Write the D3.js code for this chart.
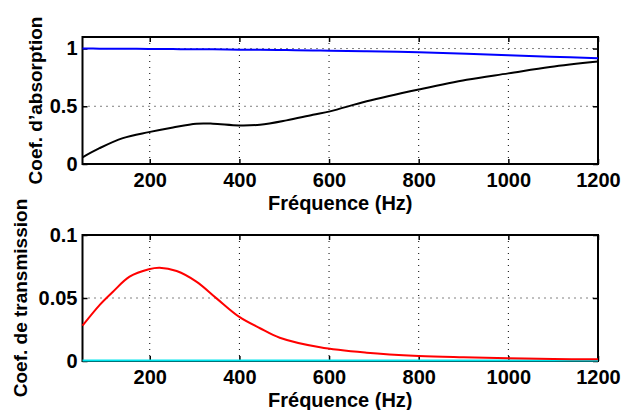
<!DOCTYPE html>
<html>
<head>
<meta charset="utf-8">
<script src="https://cdn.jsdelivr.net/npm/d3@7"></script>
<style>
  body { margin: 0; background: #fff; }
  svg { display: block; font-family: "Liberation Sans", Arial, Helvetica, sans-serif; font-weight: bold; }
  .tick text { font-size: 20px; font-weight: bold; fill: #000; }
  .grid line { stroke: #000; stroke-width: 1; stroke-dasharray: 1,5; }
</style>
</head>
<body>
<svg id="chart" width="625" height="410"></svg>
<script>
// absorption (top panel)
const freqAbs = [50, 88, 140, 198, 252, 304, 341, 399, 446, 505, 564, 602, 684, 800, 907, 1000, 1093, 1200];
const absorption = [0.058, 0.137, 0.224, 0.276, 0.317, 0.349, 0.349, 0.334, 0.34, 0.378, 0.427, 0.456, 0.543, 0.645, 0.73, 0.785, 0.84, 0.887];
const absorptionBlue = [1.0, 0.999, 0.998, 0.997, 0.995, 0.994, 0.993, 0.99, 0.989, 0.987, 0.984, 0.981, 0.976, 0.968, 0.955, 0.942, 0.93, 0.917];

// transmission (bottom panel)
const freqTr = [50, 88, 118, 155, 198, 222, 260, 304, 349, 399, 446, 490, 580, 684, 800, 900, 1000, 1100, 1200];
const transmission = [0.028, 0.0444, 0.055, 0.0669, 0.0728, 0.074, 0.0714, 0.063, 0.0497, 0.0352, 0.026, 0.0185, 0.0109, 0.0066, 0.004, 0.0029, 0.0021, 0.0016, 0.0013];
const transmissionCyan = [0.0004, 0.0004, 0.0004, 0.0004, 0.0004, 0.0004, 0.0004, 0.0004, 0.0004, 0.0004, 0.0004, 0.0004, 0.0004, 0.0004, 0.0004, 0.0004, 0.0004, 0.0004, 0.0004];

const xTicks = [200, 400, 600, 800, 1000, 1200];
const yTicksTop = [0, 0.5, 1];
const yTicksBottom = [0, 0.05, 0.1];

const svg = d3.select("#chart");

const xScale = d3.scaleLinear().domain([50, 1200]).range([82.5, 598]);

function panel(top, bottom, yDomain, yTicks, freq, series, ylabel, ylabelX) {
  const yScale = d3.scaleLinear().domain(yDomain).range([bottom, top]);
  const g = svg.append("g");

  // grid
  const grid = g.append("g").attr("class", "grid");
  grid.selectAll(".gx").data(xTicks.slice(0, -1)).enter().append("line")
    .attr("x1", d => xScale(d)).attr("x2", d => xScale(d))
    .attr("y1", top).attr("y2", bottom);
  grid.selectAll(".gy").data(yTicks.filter(t => t > yDomain[0] && t < yDomain[1])).enter().append("line")
    .attr("x1", xScale.range()[0]).attr("x2", xScale.range()[1])
    .attr("y1", d => yScale(d)).attr("y2", d => yScale(d));

  // axes
  const xAxis = d3.axisBottom(xScale).tickValues(xTicks).tickFormat(d3.format("d"))
    .tickSizeInner(-5).tickSizeOuter(0).tickPadding(9);
  g.append("g").attr("transform", `translate(0,${bottom})`).call(xAxis)
    .call(a => a.select(".domain").remove());
  g.append("g").attr("transform", `translate(0,${top})`)
    .call(d3.axisTop(xScale).tickValues(xTicks).tickSizeInner(-5).tickSizeOuter(0).tickFormat(""))
    .call(a => a.select(".domain").remove());
  const yAxis = d3.axisLeft(yScale).tickValues(yTicks).tickFormat(d3.format("~g"))
    .tickSizeInner(-5).tickSizeOuter(0).tickPadding(5);
  g.append("g").attr("transform", `translate(${xScale.range()[0]},0)`).call(yAxis)
    .call(a => a.select(".domain").remove());
  g.append("g").attr("transform", `translate(${xScale.range()[1]},0)`)
    .call(d3.axisRight(yScale).tickValues(yTicks).tickSizeInner(-5).tickSizeOuter(0).tickFormat(""))
    .call(a => a.select(".domain").remove());
  g.selectAll(".tick line").attr("stroke", "#000").attr("stroke-width", 1.5);

  // box
  g.append("rect")
    .attr("x", xScale.range()[0]).attr("y", top)
    .attr("width", xScale.range()[1] - xScale.range()[0]).attr("height", bottom - top)
    .attr("fill", "none").attr("stroke", "#000").attr("stroke-width", 2);

  // curves
  series.forEach(s => {
    g.append("path")
      .datum(freq.map((f, i) => [f, s.values[i]]))
      .attr("fill", "none")
      .attr("stroke", s.color)
      .attr("stroke-width", 2)
      .attr("d", d3.line().curve(d3.curveCatmullRom.alpha(0.5))
        .x(d => xScale(d[0]))
        .y(d => yScale(d[1])));
  });

  // labels
  g.append("text")
    .attr("x", (xScale.range()[0] + xScale.range()[1]) / 2)
    .attr("y", bottom + 46)
    .attr("text-anchor", "middle")
    .style("font-size", "20px")
    .text("Fréquence (Hz)");
  g.append("text")
    .attr("transform", `translate(${ylabelX},${(top + bottom) / 2}) rotate(-90)`)
    .attr("text-anchor", "middle")
    .style("font-size", "19px")
    .text(ylabel);
}

panel(37, 164, [0, 1.1], yTicksTop, freqAbs,
  [{ values: absorptionBlue, color: "#0000ff" }, { values: absorption, color: "#000" }],
  "Coef. d\u2019absorption", 42);

panel(235, 361, [0, 0.1], yTicksBottom, freqTr,
  [{ values: transmissionCyan, color: "#00e5ee" }, { values: transmission, color: "#ff0000" }],
  "Coef. de transmission", 27);
</script>
</body>
</html>
